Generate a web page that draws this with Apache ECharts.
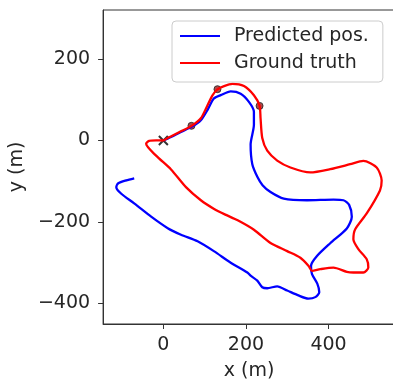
<!DOCTYPE html>
<html>
<head>
<meta charset="utf-8">
<script src="https://cdn.jsdelivr.net/npm/echarts@6/dist/echarts.min.js"></script>
<style>
  html, body { margin: 0; padding: 0; background: #fff; overflow: hidden; }
  #chart { width: 400px; height: 386px; }
</style>
</head>
<body>
<div id="chart"></div>
<script>
// ground truth trajectory (x m, y m), closed loop starting at the origin
const groundTruth = [
  [0, 0], [10.6, 6.3], [42.4, 22.5], [68.4, 36.0], [90.8, 54.6], [107.0, 86.8],
  [119.0, 110.9], [131.1, 125.4], [147.0, 133.6], [167.2, 139.2], [195.2, 133.6],
  [219.3, 110.9], [233.0, 85.3], [235.4, 54.6], [239.5, 6.3], [251.6, -25.1],
  [275.7, -49.3], [307.7, -66.2], [355.9, -78.3], [404.1, -70.3], [452.3, -58.2],
  [484.3, -50.0], [516.6, -66.2], [528.7, -98.4], [524.6, -122.5], [492.5, -179.1],
  [464.3, -218.5], [460.2, -242.6], [472.3, -266.8], [492.5, -291.7], [496.4, -312.0],
  [484.3, -324.1], [460.2, -324.1], [444.3, -322.4], [412.0, -312.0], [380.0, -315.9],
  [360.0, -320.0], [351.8, -307.9], [331.8, -287.8], [299.8, -271.6], [259.5, -251.6],
  [219.3, -219.2], [180.0, -196.0], [150.0, -182.0], [122.9, -168.0], [90.8, -146.7],
  [54.7, -114.5], [18.6, -71.0], [-17.6, -37.2], [-41.7, -8.2], [-34.5, -1.0],
  [-17.6, 0.2], [0, 0]
];

// predicted trajectory (x m, y m)
const predicted = [
  [0, 0], [11.3, 5.1], [42.4, 20.8], [69.2, 34.1], [90.8, 49.8], [107.7, 76.4],
  [122.2, 102.9], [139.0, 111.4], [163.1, 120.6], [187.2, 115.0], [207.2, 95.0],
  [219.3, 70.8], [219.3, 38.4], [211.3, -9.9], [215.4, -58.2], [228.2, -90.4],
  [240.2, -109.7], [259.5, -126.6], [291.6, -142.8], [348.0, -146.7], [412.0, -145.2],
  [436.1, -146.7], [449.9, -158.0], [456.4, -187.0], [444.3, -216.0], [404.1, -252.3],
  [372.0, -283.7], [357.6, -307.8], [360.0, -327.9], [372.8, -351.4], [377.6, -372.4],
  [368.0, -384.5], [351.1, -388.3], [327.0, -380.4], [299.8, -368.3], [275.7, -357.9],
  [251.6, -362.7], [239.5, -360.3], [227.5, -344.1], [211.3, -332.0], [203.4, -324.1],
  [163.1, -299.9], [122.2, -271.6], [82.9, -247.5], [42.7, -231.3], [10.6, -215.3],
  [-29.6, -187.0], [-69.9, -154.9], [-101.9, -130.7], [-114.0, -114.5], [-109.2, -104.9],
  [-89.9, -97.7], [-70.6, -92.8]
];

const waypoints = [[68, 36], [131, 126], [233, 85]];
const startPoint = [[0, 0]];

const xTicks = [0, 200, 400];
const yTicks = [-400, -200, 0, 200];

const font = "DejaVu Sans";
const textColor = "#262626";

const axisCommon = {
  type: "value",
  nameLocation: "middle",
  nameTextStyle: { fontFamily: font, fontSize: 19, color: textColor },
  axisLine: { show: true, onZero: false, lineStyle: { color: "#333", width: 1 } },
  axisTick: { show: true, length: 5, lineStyle: { color: "#333", width: 1 } },
  splitLine: { show: false }
};

const chart = echarts.init(document.getElementById("chart"));
chart.setOption({
  animation: false,
  grid: {
    left: 102, top: 10, right: 5, bottom: 57,
    show: true, borderColor: "#333", borderWidth: 1, backgroundColor: "#fff"
  },
  legend: {
    orient: "vertical",
    left: 172, top: 21,
    padding: [5, 14, 9, 8],
    itemGap: 7,
    itemWidth: 40, itemHeight: 2,
    icon: "rect",
    backgroundColor: "rgba(255,255,255,0.8)",
    borderColor: "#ccc", borderWidth: 1, borderRadius: 4,
    textStyle: { fontFamily: font, fontSize: 19, color: textColor, lineHeight: 20, padding: [0, 0, 0, 9] },
    data: ["Predicted pos.", "Ground truth"]
  },
  xAxis: Object.assign({}, axisCommon, {
    name: "x (m)", nameGap: 38,
    min: -146, max: 561,
    axisTick: Object.assign({}, axisCommon.axisTick, { customValues: xTicks }),
    axisLabel: { customValues: xTicks, margin: 12, fontFamily: font, fontSize: 19, color: textColor }
  }),
  yAxis: Object.assign({}, axisCommon, {
    name: "y (m)", nameGap: 72, nameRotate: 90,
    min: -450.5, max: 320.4,
    axisTick: Object.assign({}, axisCommon.axisTick, { customValues: yTicks }),
    axisLabel: {
      customValues: yTicks, margin: 13, fontFamily: font, fontSize: 19, color: textColor,
      formatter: v => (v < 0 ? "\u2212" + Math.abs(v) : String(v))
    }
  }),
  series: [
    {
      name: "Predicted pos.", type: "line", data: predicted,
      showSymbol: false, smooth: 0.25,
      lineStyle: { color: "#0000ff", width: 2.3 }, itemStyle: { color: "#0000ff" }
    },
    {
      name: "Ground truth", type: "line", data: groundTruth,
      showSymbol: false, smooth: 0.25,
      lineStyle: { color: "#ff0000", width: 2.3 }, itemStyle: { color: "#ff0000" }
    },
    {
      type: "scatter", data: waypoints, symbol: "circle", symbolSize: 7,
      itemStyle: { color: "#9b1c1c", borderColor: "#222", borderWidth: 1 }
    },
    {
      type: "scatter", data: startPoint, symbol: "path://M0,0L10,10M10,0L0,10", symbolSize: 9,
      itemStyle: { color: "none", borderColor: "#000", borderWidth: 2 }
    }
  ]
});
</script>
</body>
</html>
